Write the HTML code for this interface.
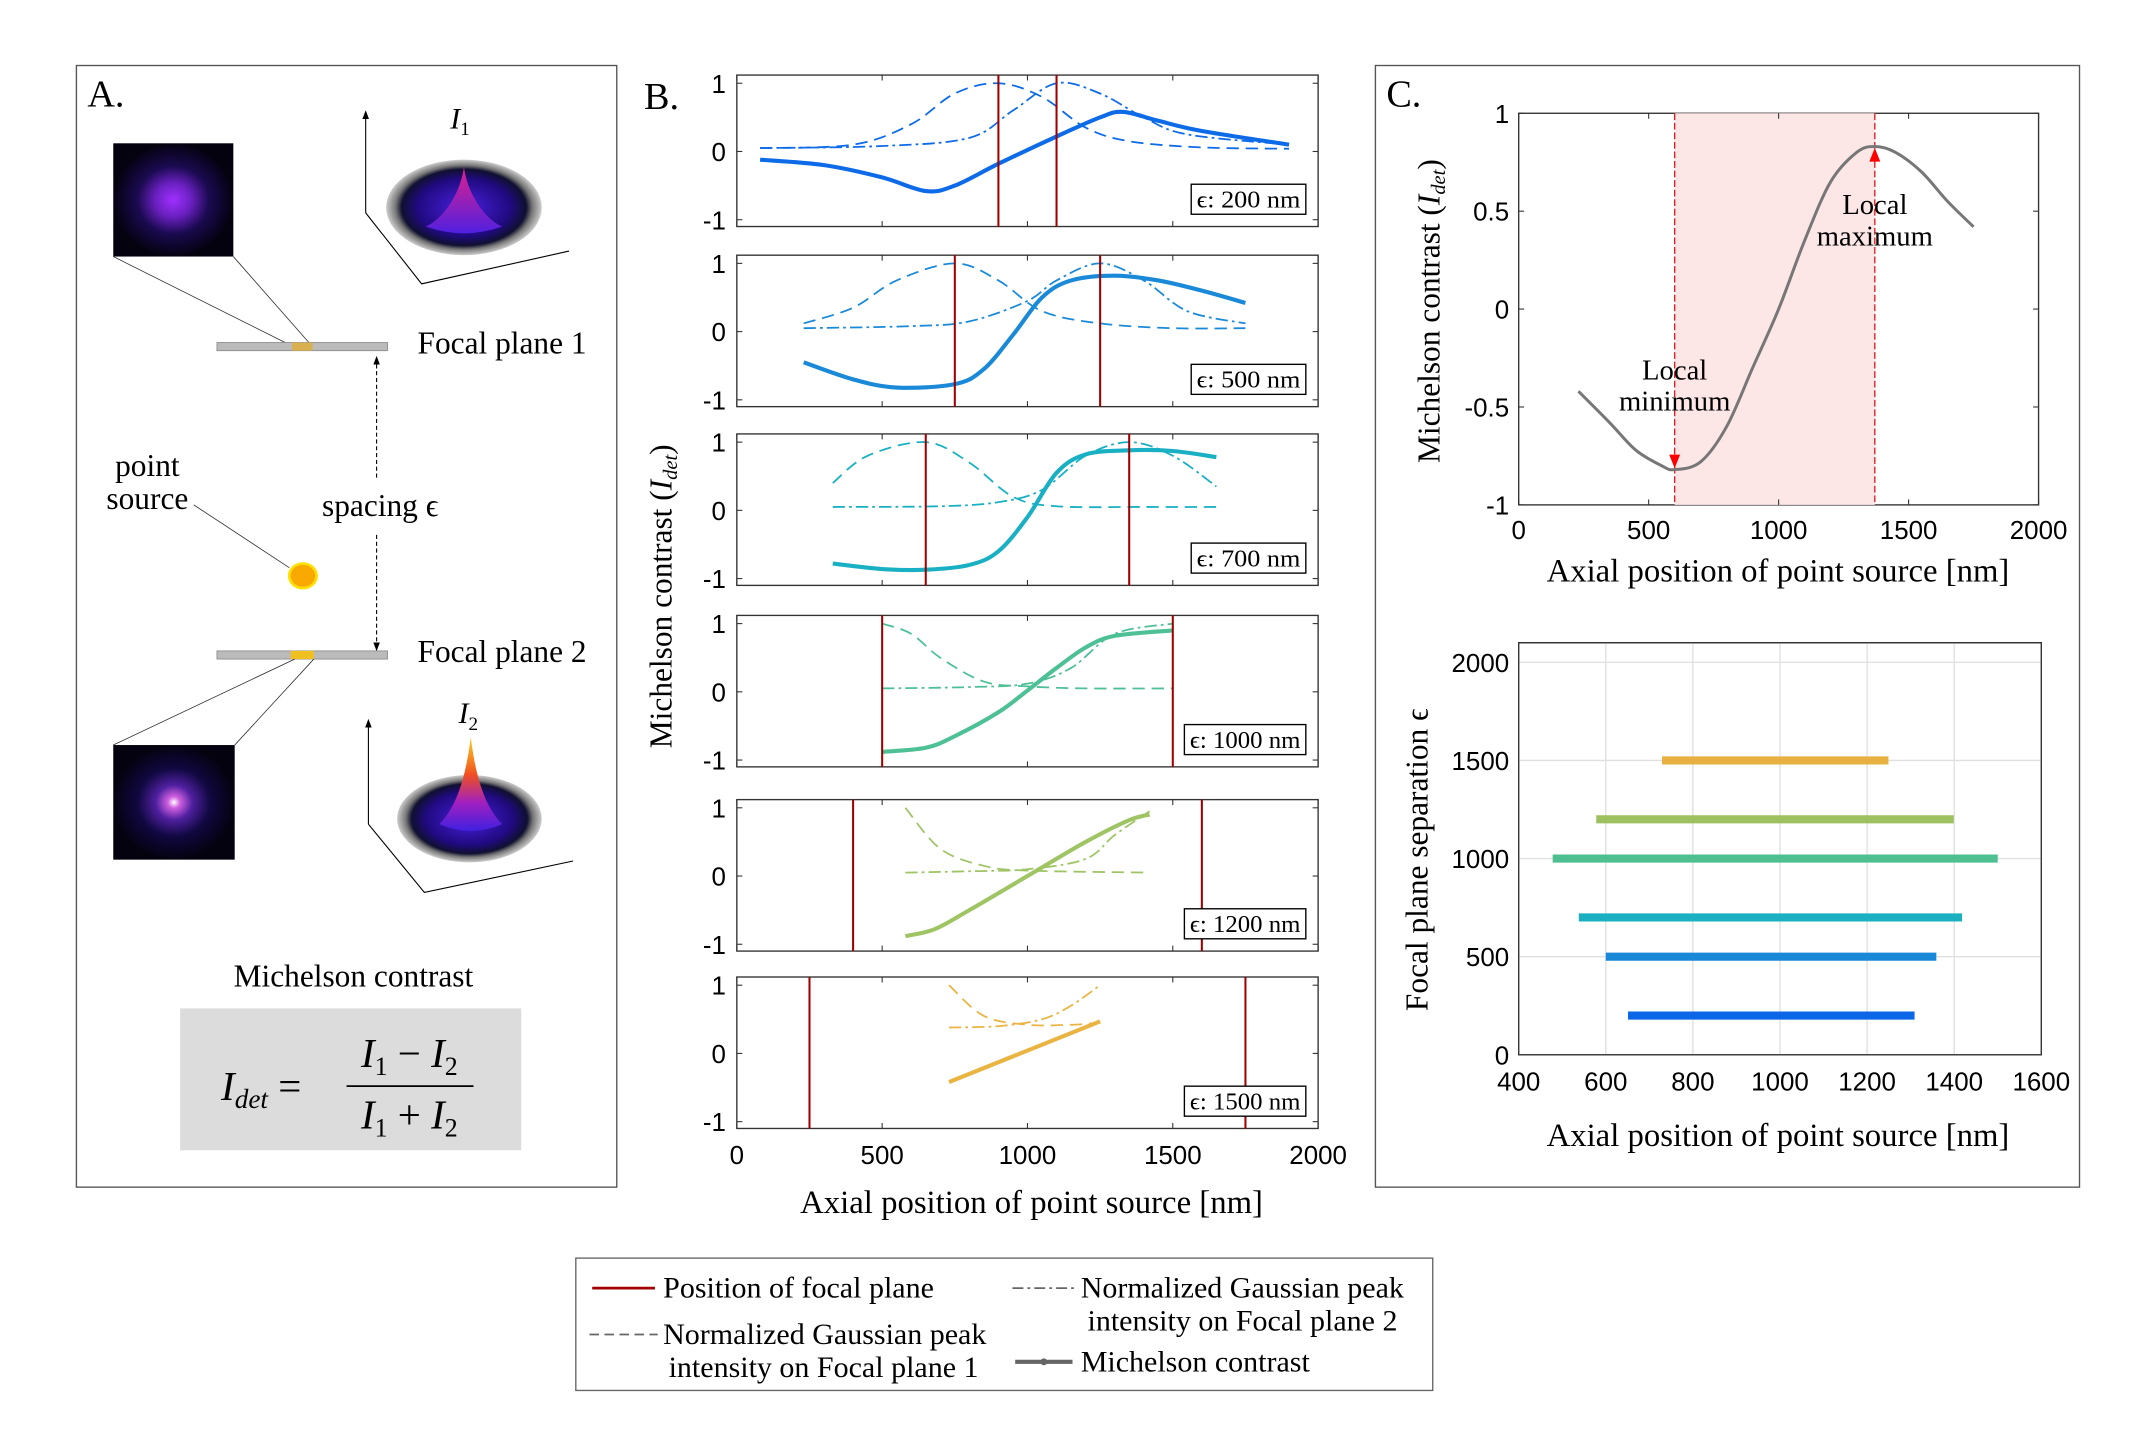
<!DOCTYPE html>
<html><head><meta charset="utf-8"><style>
html,body{margin:0;padding:0;background:#fff;}
svg{display:block;}
.serif{font-family:"Liberation Serif",serif;}
.sans{font-family:"Liberation Sans",sans-serif;}
</style></head><body>
<svg id="fig" width="2139" height="1431" viewBox="0 0 1567.6 1048.7" xmlns="http://www.w3.org/2000/svg">
<defs>
<radialGradient id="spot1" cx="50%" cy="50%" r="50%"><stop offset="0" stop-color="#a030ff"/><stop offset="0.3" stop-color="#6a20c0"/><stop offset="0.6" stop-color="#1a0a50"/><stop offset="1" stop-color="#050210"/></radialGradient>
<radialGradient id="spot2" cx="50%" cy="50%" r="50%"><stop offset="0" stop-color="#ffffff"/><stop offset="0.1" stop-color="#d060e0"/><stop offset="0.3" stop-color="#5020a0"/><stop offset="0.6" stop-color="#100840"/><stop offset="1" stop-color="#050210"/></radialGradient>
<radialGradient id="base" cx="50%" cy="50%" r="50%"><stop offset="0" stop-color="#4a20e0"/><stop offset="0.6" stop-color="#200a80"/><stop offset="0.8" stop-color="#101030"/><stop offset="0.88" stop-color="#777"/><stop offset="1" stop-color="#ccc"/></radialGradient>
<linearGradient id="peak1" x1="0" y1="0" x2="0" y2="1"><stop offset="0" stop-color="#e0208a"/><stop offset="1" stop-color="#5020e0"/></linearGradient>
<linearGradient id="peak2" x1="0" y1="0" x2="0" y2="1"><stop offset="0" stop-color="#ffd020"/><stop offset="0.4" stop-color="#f05020"/><stop offset="0.7" stop-color="#a020c0"/><stop offset="1" stop-color="#4020e0"/></linearGradient>
<marker id="arr" markerWidth="8" markerHeight="8" refX="4" refY="4" orient="auto"><path d="M0,1 L8,4 L0,7 z" fill="#000"/></marker>
</defs>

<!-- Panel A -->
<g>
<rect x="56" y="48" width="396" height="822" fill="none" stroke="#555" stroke-width="1"/>
<text x="64" y="78" class="serif" font-size="28">A.</text>
<rect x="83" y="105" width="88" height="83" fill="url(#spot1)"/>
<line x1="83" y1="188" x2="215" y2="254" stroke="#333" stroke-width="0.6"/>
<line x1="171" y1="188" x2="229" y2="254" stroke="#333" stroke-width="0.6"/>
<rect x="159" y="251" width="125" height="6" fill="#bbb" stroke="#888" stroke-width="0.6"/>
<rect x="214" y="251" width="15" height="6" fill="#d8b050"/>
<text x="306" y="259" class="serif" font-size="23">Focal plane 1</text>
<rect x="159" y="477" width="125" height="6" fill="#bbb" stroke="#888" stroke-width="0.6"/>
<rect x="213" y="477" width="17" height="6" fill="#f0c020"/>
<text x="306" y="485" class="serif" font-size="23">Focal plane 2</text>
<line x1="276" y1="350" x2="276" y2="264" stroke="#000" stroke-width="0.8" stroke-dasharray="3,2" marker-end="url(#arr)"/>
<line x1="276" y1="392" x2="276" y2="474" stroke="#000" stroke-width="0.8" stroke-dasharray="3,2" marker-end="url(#arr)"/>
<text x="236" y="378" class="serif" font-size="23">spacing ϵ</text>
<text x="108" y="349" class="serif" font-size="23" text-anchor="middle">point</text>
<text x="108" y="373" class="serif" font-size="23" text-anchor="middle">source</text>
<line x1="142" y1="370" x2="212" y2="416" stroke="#333" stroke-width="0.6"/>
<ellipse cx="222" cy="422" rx="10" ry="9" fill="#f8a800" stroke="#ffe000" stroke-width="2"/>
<line x1="83" y1="546" x2="216" y2="483" stroke="#333" stroke-width="0.6"/>
<line x1="172" y1="546" x2="230" y2="483" stroke="#333" stroke-width="0.6"/>
<rect x="83" y="546" width="89" height="84" fill="url(#spot2)"/>
<g>
<line x1="268" y1="156" x2="268" y2="84" stroke="#000" stroke-width="0.8" marker-end="url(#arr)"/>
<polyline points="268,156 309,208 417,184" fill="none" stroke="#000" stroke-width="0.8"/>
<ellipse cx="340" cy="152" rx="57" ry="35" fill="url(#base)"/>
<path d="M340,122 C338,140 326,160 312,166 Q340,176 368,166 C354,160 342,140 340,122 Z" fill="url(#peak1)"/>
<text x="330" y="94" class="serif" font-size="22" font-style="italic">I<tspan font-size="14" dy="5" font-style="normal">1</tspan></text>
</g>
<g>
<line x1="270" y1="604" x2="270" y2="530" stroke="#000" stroke-width="0.8" marker-end="url(#arr)"/>
<polyline points="270,604 311,654 420,631" fill="none" stroke="#000" stroke-width="0.8"/>
<ellipse cx="344" cy="600" rx="53" ry="32" fill="url(#base)"/>
<path d="M345,540 C342,565 336,590 322,604 Q345,614 368,604 C354,590 348,565 345,540 Z" fill="url(#peak2)"/>
<text x="336" y="530" class="serif" font-size="22" font-style="italic">I<tspan font-size="14" dy="5" font-style="normal">2</tspan></text>
</g>
<text x="259" y="723" class="serif" font-size="23" text-anchor="middle">Michelson contrast</text>
<rect x="132" y="739" width="250" height="104" fill="#dcdcdc"/>
<g class="serif" font-size="30" font-style="italic">
<text x="162" y="806">I<tspan font-size="20" dy="6">det</tspan><tspan dy="-6" font-style="normal"> =</tspan></text>
<text x="300" y="782" text-anchor="middle">I<tspan font-size="19" dy="6" font-style="normal">1</tspan><tspan dy="-6" font-style="normal"> − </tspan>I<tspan font-size="19" dy="6" font-style="normal">2</tspan></text>
<line x1="254" y1="796" x2="347" y2="796" stroke="#000" stroke-width="1.3"/>
<text x="300" y="827" text-anchor="middle">I<tspan font-size="19" dy="6" font-style="normal">1</tspan><tspan dy="-6" font-style="normal"> + </tspan>I<tspan font-size="19" dy="6" font-style="normal">2</tspan></text>
</g>
</g>

<!-- Panel B -->
<g id="panelB">
<text x="472" y="80" class="serif" font-size="28">B.</text>
<text transform="translate(492,437) rotate(-90)" class="serif" font-size="23" text-anchor="middle">Michelson contrast  (<tspan font-style="italic">I<tspan font-size="15" dy="4">det</tspan></tspan><tspan dy="-4">)</tspan></text>
<text x="756" y="889" class="serif" font-size="24" text-anchor="middle">Axial position of point source [nm]</text>
</g>

<!-- Panel C -->
<g id="panelC">
<rect x="1008" y="48" width="516" height="822" fill="none" stroke="#555" stroke-width="1"/>
<text x="1016" y="78" class="serif" font-size="28">C.</text>
<text transform="translate(1055,228) rotate(-90)" class="serif" font-size="23" text-anchor="middle">Michelson contrast  (<tspan font-style="italic">I<tspan font-size="15" dy="4">det</tspan></tspan><tspan dy="-4">)</tspan></text>
<text x="1303" y="426" class="serif" font-size="24" text-anchor="middle">Axial position of point source [nm]</text>
<text transform="translate(1046,630) rotate(-90)" class="serif" font-size="23" text-anchor="middle">Focal plane separation ϵ</text>
<text x="1303" y="840" class="serif" font-size="24" text-anchor="middle">Axial position of point source [nm]</text>
</g>

<!-- Legend -->
<g class="serif" font-size="22">
<rect x="422" y="922" width="628" height="97" fill="#fff" stroke="#666" stroke-width="1"/>
<g><line x1="434" y1="944" x2="480" y2="944" stroke="#a00000" stroke-width="2"/><text x="486" y="951">Position of focal plane</text></g>
<g><line x1="432" y1="978" x2="482" y2="978" stroke="#666" stroke-width="1.3" stroke-dasharray="7,4"/><text x="486" y="985">Normalized Gaussian peak</text><text x="490" y="1009">intensity on Focal plane 1</text></g>
<g><line x1="742" y1="944" x2="788" y2="944" stroke="#666" stroke-width="1.3" stroke-dasharray="8,3,2,3"/><text x="792" y="951">Normalized Gaussian peak</text><text x="797" y="975">intensity on Focal plane 2</text></g>
<g><line x1="744" y1="998" x2="786" y2="998" stroke="#666" stroke-width="3"/><circle cx="765" cy="998" r="2.5" fill="#666"/><text x="792" y="1005">Michelson contrast</text></g>
</g>
</svg>

<script>
// ---------- Panel B data ----------
const bSpacings = [200, 500, 700, 1000, 1200, 1500];
const bColors = ["#0d6be8", "#1a8ad8", "#19b0c4", "#4ec096", "#9fc464", "#eab443"];
const bFocal = [[900, 1100], [750, 1250], [650, 1350], [500, 1500], [400, 1600], [250, 1750]];
const bDashX = [
 [80,400,600,750,900,1050,1200,1350,1600,1900],
 [230,400,550,750,900,1050,1250,1500,1750],
 [330,450,650,800,950,1100,1400,1650],
 [500,600,700,850,1000,1200,1500],
 [580,700,850,1000,1420],
 [730,850,1000,1150,1250]];
const bDashY = [
 [0.05,0.1,0.4,0.85,1.0,0.8,0.35,0.15,0.06,0.04],
 [0.12,0.35,0.75,1.0,0.75,0.3,0.12,0.05,0.05],
 [0.4,0.8,1.0,0.7,0.2,0.06,0.05,0.05],
 [1.0,0.85,0.5,0.15,0.08,0.05,0.05],
 [1.0,0.4,0.15,0.08,0.05],
 [1.0,0.55,0.42,0.42,0.45]];
const bDotX = [
 [80,500,800,950,1100,1250,1400,1550,1900],
 [230,600,800,1000,1100,1250,1400,1550,1750],
 [330,700,900,1050,1200,1350,1500,1650],
 [500,800,1000,1150,1300,1500],
 [580,800,1000,1200,1300,1420],
 [730,900,1050,1150,1250]];
const bDotY = [
 [0.05,0.08,0.2,0.6,1.0,0.85,0.5,0.25,0.1],
 [0.05,0.08,0.15,0.45,0.75,1.0,0.75,0.3,0.12],
 [0.05,0.06,0.12,0.3,0.8,1.0,0.8,0.35],
 [0.05,0.07,0.12,0.35,0.85,1.0],
 [0.05,0.07,0.1,0.25,0.6,0.95],
 [0.38,0.4,0.5,0.7,1.0]];
const bMichX = [
 [80,300,500,650,750,900,1100,1250,1330,1450,1600,1900],
 [230,400,550,750,850,950,1050,1150,1300,1450,1600,1750],
 [330,500,650,800,900,1000,1100,1200,1350,1500,1650],
 [500,650,750,900,1000,1100,1200,1300,1500],
 [580,680,800,1000,1200,1350,1420],
 [730,1250]];
const bMichY = [
 [-0.12,-0.2,-0.38,-0.58,-0.5,-0.18,0.22,0.5,0.58,0.45,0.3,0.1],
 [-0.45,-0.7,-0.82,-0.77,-0.55,-0.05,0.5,0.75,0.82,0.75,0.6,0.42],
 [-0.78,-0.86,-0.87,-0.8,-0.6,-0.1,0.55,0.82,0.88,0.87,0.78],
 [-0.88,-0.82,-0.65,-0.3,0.02,0.35,0.65,0.82,0.9],
 [-0.88,-0.78,-0.5,0.0,0.5,0.82,0.9],
 [-0.42,0.47]];
const bXTicks = [0, 500, 1000, 1500, 2000];
const bYTicks = [-1, 0, 1];

// ---------- Panel C data ----------
const cCurveX = [230,350,450,550,600,700,800,900,1000,1100,1200,1300,1370,1450,1550,1650,1750];
const cCurveY = [-0.42,-0.58,-0.72,-0.8,-0.82,-0.78,-0.6,-0.3,0.0,0.35,0.65,0.8,0.83,0.8,0.7,0.55,0.42];
const cMinX = 600, cMinY = -0.82, cMaxX = 1370, cMaxY = 0.83;
const cXTicks = [0, 500, 1000, 1500, 2000];
const cYTicks = [-1, -0.5, 0, 0.5, 1];
const rangeSpacing = [200, 500, 700, 1000, 1200, 1500];
const rangeStart = [651, 600, 538, 478, 578, 729];
const rangeEnd = [1309, 1359, 1418, 1500, 1399, 1249];
const rangeColors = ["#0b66e8", "#1a88d8", "#1ab0c0", "#4dbf90", "#9dc060", "#e8b040"];
const rXTicks = [400, 600, 800, 1000, 1200, 1400, 1600];
const rYTicks = [0, 500, 1000, 1500, 2000];

const NS = "http://www.w3.org/2000/svg";
function mk(tag, attrs, parent) {
  const e = document.createElementNS(NS, tag);
  for (const k in attrs) e.setAttribute(k, attrs[k]);
  parent.appendChild(e);
  return e;
}
function smoothPath(pts) {
  if (pts.length < 3) return "M" + pts.map(p => p[0].toFixed(2) + "," + p[1].toFixed(2)).join(" L");
  let d = "M" + pts[0][0] + "," + pts[0][1];
  for (let i = 0; i < pts.length - 1; i++) {
    const p0 = pts[i - 1] || pts[i], p1 = pts[i], p2 = pts[i + 1], p3 = pts[i + 2] || p2;
    const c1x = p1[0] + (p2[0] - p0[0]) / 6, c1y = p1[1] + (p2[1] - p0[1]) / 6;
    const c2x = p2[0] - (p3[0] - p1[0]) / 6, c2y = p2[1] - (p3[1] - p1[1]) / 6;
    d += " C" + c1x.toFixed(2) + "," + c1y.toFixed(2) + " " + c2x.toFixed(2) + "," + c2y.toFixed(2) + " " + p2[0].toFixed(2) + "," + p2[1].toFixed(2);
  }
  return d;
}
const gB = document.getElementById("panelB");
const gC = document.getElementById("panelC");
const TF = "Liberation Sans, sans-serif";

// Panel B
const bTops = [55, 187, 318, 451, 586, 716];
const bL = 540, bR = 966, bH = 111;
bSpacings.forEach((sp, i) => {
  const top = bTops[i];
  const xs = v => bL + (v / 2000) * (bR - bL);
  const ys = v => top + 6 + (1 - v) / 2 * (bH - 11);
  const g = mk("g", {}, gB);
  
  
  mk("rect", {x: bL, y: top, width: bR - bL, height: bH, fill: "#fff", stroke: "#333", "stroke-width": 1}, g);
  bXTicks.forEach(t => {
    const x = xs(t);
    mk("line", {x1: x, y1: top + bH, x2: x, y2: top + bH - 4, stroke: "#333", "stroke-width": 0.8}, g);
    mk("line", {x1: x, y1: top, x2: x, y2: top + 4, stroke: "#333", "stroke-width": 0.8}, g);
    if (i === bSpacings.length - 1) {
      const tl = mk("text", {x: x, y: top + bH + 26, "text-anchor": "middle", "font-size": 19, "font-family": TF}, g);
      tl.textContent = t;
      
      
    }
  });
  bYTicks.forEach(t => {
    const y = ys(t);
    mk("line", {x1: bL, y1: y, x2: bL + 4, y2: y, stroke: "#333", "stroke-width": 0.8}, g);
    mk("line", {x1: bR, y1: y, x2: bR - 4, y2: y, stroke: "#333", "stroke-width": 0.8}, g);
    const tl = mk("text", {x: bL - 8, y: y + 7, "text-anchor": "end", "font-size": 19, "font-family": TF}, g);
    tl.textContent = t;
    
    
  });
  const col = bColors[i];
  const dash = mk("path", {d: smoothPath(bDashX[i].map((x, j) => [xs(x), ys(bDashY[i][j])])), fill: "none", stroke: col, "stroke-width": 1.3, "stroke-dasharray": "9,5"}, g);
  
  
  const dot = mk("path", {d: smoothPath(bDotX[i].map((x, j) => [xs(x), ys(bDotY[i][j])])), fill: "none", stroke: col, "stroke-width": 1.3, "stroke-dasharray": "9,3,2,3"}, g);
  
  
  const mich = mk("path", {d: smoothPath(bMichX[i].map((x, j) => [xs(x), ys(bMichY[i][j])])), fill: "none", stroke: col, "stroke-width": 3}, g);
  
  
  bFocal[i].forEach(f => {
    const l = mk("line", {x1: xs(f), y1: top, x2: xs(f), y2: top + bH, stroke: "#a00000", "stroke-width": 1.5}, g);
    
    
  });
  const lb = mk("g", {}, g);
  
  
  const bw = sp >= 1000 ? 89 : 84;
  mk("rect", {x: 957 - bw, y: top + 80, width: bw, height: 22, fill: "#fff", stroke: "#000", "stroke-width": 1}, lb);
  const t = mk("text", {x: 957 - bw / 2, y: top + 97, "text-anchor": "middle", "font-size": 18, "font-family": "Liberation Serif, serif", textLength: bw - 8, lengthAdjust: "spacingAndGlyphs"}, lb);
  t.textContent = "ϵ: " + sp + " nm";
});

// Panel C top chart
(function () {
  const L = 1113, R = 1494, T = 83, B = 370;
  const xs = v => L + (v / 2000) * (R - L);
  const ys = v => B - (v + 1) / 2 * (B - T);
  const g = mk("g", {}, gC);
  
  
  mk("rect", {x: L, y: T, width: R - L, height: B - T, fill: "#fff", stroke: "#333", "stroke-width": 1}, g);
  const sh = mk("rect", {x: xs(cMinX), y: T, width: xs(cMaxX) - xs(cMinX), height: B - T, fill: "#fde6e6"}, g);
  
  
  [cMinX, cMaxX].forEach(v => mk("line", {x1: xs(v), y1: T, x2: xs(v), y2: B, stroke: "#e02020", "stroke-width": 1, "stroke-dasharray": "5,2"}, g));
  cXTicks.forEach(t => {
    mk("line", {x1: xs(t), y1: B, x2: xs(t), y2: B - 4, stroke: "#333", "stroke-width": 0.8}, g);
    mk("line", {x1: xs(t), y1: T, x2: xs(t), y2: T + 4, stroke: "#333", "stroke-width": 0.8}, g);
    const tl = mk("text", {x: xs(t), y: B + 25, "text-anchor": "middle", "font-size": 19, "font-family": TF}, g);
    tl.textContent = t;
    
    
  });
  cYTicks.forEach(t => {
    mk("line", {x1: L, y1: ys(t), x2: L + 4, y2: ys(t), stroke: "#333", "stroke-width": 0.8}, g);
    mk("line", {x1: R, y1: ys(t), x2: R - 4, y2: ys(t), stroke: "#333", "stroke-width": 0.8}, g);
    const tl = mk("text", {x: L - 7, y: ys(t) + 7, "text-anchor": "end", "font-size": 19, "font-family": TF}, g);
    tl.textContent = t;
    
    
  });
  const c = mk("path", {d: smoothPath(cCurveX.map((x, j) => [xs(x), ys(cCurveY[j])])), fill: "none", stroke: "#777", "stroke-width": 2.2}, g);
  
  
  const mn = mk("path", {d: `M${xs(cMinX) - 4},${ys(cMinY) - 11} L${xs(cMinX) + 4},${ys(cMinY) - 11} L${xs(cMinX)},${ys(cMinY) - 1} Z`, fill: "#f00"}, g);
  
  
  const mx = mk("path", {d: `M${xs(cMaxX) - 4},${ys(cMaxY) + 11} L${xs(cMaxX) + 4},${ys(cMaxY) + 11} L${xs(cMaxX)},${ys(cMaxY) + 1} Z`, fill: "#f00"}, g);
  
  
  const labs = [["Local", xs(cMinX), 278], ["minimum", xs(cMinX), 301], ["Local", xs(cMaxX), 157], ["maximum", xs(cMaxX), 180]];
  labs.forEach(l => {
    const t = mk("text", {x: l[1], y: l[2], "text-anchor": "middle", "font-size": 21, "font-family": "Liberation Serif, serif"}, g);
    t.textContent = l[0];
    
    
  });
})();

// Panel C bottom chart
(function () {
  const L = 1113, R = 1496, T = 471, B = 773;
  const xs = v => L + (v - 400) / 1200 * (R - L);
  const ys = v => B - v / 2100 * (B - T);
  const g = mk("g", {}, gC);
  
  
  mk("rect", {x: L, y: T, width: R - L, height: B - T, fill: "#fff", stroke: "#333", "stroke-width": 1}, g);
  rXTicks.forEach(t => {
    mk("line", {x1: xs(t), y1: T, x2: xs(t), y2: B, stroke: "#e0e0e0", "stroke-width": 1}, g);
    const tl = mk("text", {x: xs(t), y: B + 26, "text-anchor": "middle", "font-size": 19, "font-family": TF}, g);
    tl.textContent = t;
    
    
  });
  rYTicks.forEach(t => {
    mk("line", {x1: L, y1: ys(t), x2: R, y2: ys(t), stroke: "#e0e0e0", "stroke-width": 1}, g);
    const tl = mk("text", {x: L - 7, y: ys(t) + 7, "text-anchor": "end", "font-size": 19, "font-family": TF}, g);
    tl.textContent = t;
    
    
  });
  mk("rect", {x: L, y: T, width: R - L, height: B - T, fill: "none", stroke: "#333", "stroke-width": 1}, g);
  rangeSpacing.forEach((s, i) => {
    const b = mk("line", {x1: xs(rangeStart[i]), y1: ys(s), x2: xs(rangeEnd[i]), y2: ys(s), stroke: rangeColors[i], "stroke-width": 6}, g);
    
    
  });
})();
</script>
</body></html>
